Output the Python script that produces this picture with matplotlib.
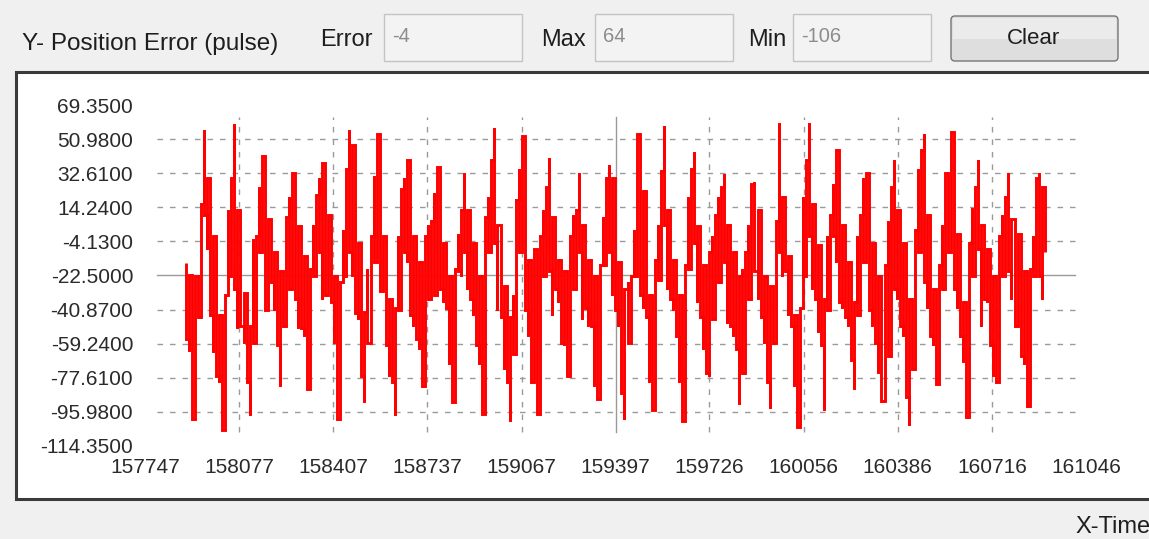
import numpy as np
import matplotlib
matplotlib.use("Agg")
import matplotlib.pyplot as plt
from matplotlib.patches import Rectangle, FancyBboxPatch

# ---------------- data ----------------
y_label = "Y- Position Error (pulse)"
x_label = "X-Time"
error_value = "-4"
max_value = "64"
min_value = "-106"
button_text = "Clear"

y_ticks = [69.35, 50.98, 32.61, 14.24, -4.13, -22.50, -40.87, -59.24, -77.61, -95.98, -114.35]
x_ticks = [157747, 158077, 158407, 158737, 159067, 159397, 159726, 160056, 160386, 160716, 161046]

# the trace is read as the highest / lowest error inside each short time bin
time_start = 157891
time_step = 10.6

high_1 = [-16, -22, -25, -23, -22, 16, 56, 30, 16, -1, -41, -44, -50, -33, 13, 30, 59, 13, -10,
          -32, -32, -50, -3, -1, 25, 42, 22, 8, -1, -10, -14, -20, -23, 9, 20, 33, 5, 4,
          -10, -12, -14, -19, 5, 21, 30, 38, 27, 10, -19, -23, -26, -26, 2, 35, 56, 48, 27]
low_1 = [-57, -63, -100, -59, -45, -23, 10, -8, -44, -64, -77, -80, -106, -82, -23, -7, -30, -51, -50,
         -59, -80, -98, -59, -37, -10, -1, -41, -41, -26, -41, -60, -82, -50, -35, -30, -15, -35, -51,
         -51, -55, -84, -66, -23, -14, -10, -35, -33, -26, -37, -59, -100, -63, -23, -5, -10, -23, -43]

high_2 = [-5, -41, -42, -19, -1, 31, 54, 54, -1, -17, -35, -37, -40, -1, 24, 30, 40, 3, -1,
          -5, -15, -32, -1, 5, 7, 22, 36, 8, -5, -10, -23, -30, -19, 0, 13, 33, 13, 10,
          -5, -15, -23, -30, 9, 20, 40, 57, 5, -10, -28, -41, -45, -33, 18, 35, 53, 3, -14, -23]
low_2 = [-46, -77, -91, -59, -41, -15, 4, -31, -19, -60, -77, -80, -98, -41, -15, -10, -15, -44, -50,
         -57, -62, -82, -59, -35, -32, -33, -10, -30, -37, -40, -70, -91, -41, -20, -23, -10, -30, -35,
         -44, -60, -70, -97, -23, -10, -5, -5, -41, -45, -73, -80, -101, -65, -5, -10, -5, -41, -55, -80]

high_3 = [-8, -25, -1, 13, 25, 41, 9, -5, -14, -19, -20, -23, -1, 10, 13, 33, 5, 0, -14,
          -15, -23, -25, -17, 9, 30, 37, 30, -8, -15, -23, -30, -26, -23, 2, 54, 30, 23, -5,
          -33, -40, -14, 5, 34, 58, 13, 5, -14, -20, -33, -40, -17, 20, 35, 44, 4, -10, -17, -23]
low_3 = [-59, -97, -44, -23, -10, -20, -44, -30, -37, -59, -60, -77, -44, -30, -23, -10, -46, -40, -50,
         -50, -82, -89, -64, -17, -5, -10, -33, -41, -50, -86, -100, -59, -55, -23, -5, -33, -40, -45,
         -80, -95, -50, -25, -1, 5, -30, -35, -41, -55, -80, -101, -47, -19, -10, -5, -37, -45, -62, -75]

high_4 = [-10, -1, 10, 20, 25, 32, 5, 3, -10, -19, -23, -19, -10, 5, 27, 28, 13, -10, -23,
          -26, -28, -28, 7, 60, 20, 15, -12, -15, -44, -45, -40, 20, 40, 60, 16, 10, -6, -15,
          -35, -1, 10, 27, 45, 7, 5, 3, -15, -26, -37, -1, 10, 30, 33, 13, -5, -14, -23, -23]
low_4 = [-77, -46, -30, -26, -15, -15, -48, -50, -55, -62, -92, -75, -50, -35, -15, -20, -35, -45, -59,
         -80, -94, -59, -17, -10, -23, -20, -44, -50, -82, -104, -61, -23, -5, -1, -30, -35, -53, -60,
         -95, -41, -20, -1, -15, -37, -40, -45, -50, -68, -84, -44, -30, -15, -10, -41, -50, -59, -75, -90]

high_5 = [-17, 7, 25, 40, 13, 5, -5, -26, -35, -44, 2, 35, 45, 54, 10, 0, -30, -48, -17,
          5, 33, 30, 55, 16, 0, -5, -37, -40, -5, 14, 25, 40, 5, -5, -8, -20, -23, -25, -1,
          10, 20, 33, 8, 7, 0, -19, -20, -20, -19, -1, 30, 33, 25, 12]
low_5 = [-88, -66, -20, -30, -35, -50, -55, -88, -103, -73, -26, -10, -5, -26, -40, -55, -60, -81, -53,
         -30, -14, -10, -10, -30, -40, -55, -69, -99, -41, -23, -10, -8, -50, -35, -37, -60, -77, -80, -33,
         -23, -15, -20, -35, -50, -45, -66, -70, -93, -67, -23, -10, -23, -35, -10]

err_high = high_1 + high_2 + high_3 + high_4 + high_5
err_low = low_1 + low_2 + low_3 + low_4 + low_5
assert len(err_high) == len(err_low)

times = time_start + time_step * np.arange(len(err_high))

# ---------------- figure ----------------
W, H = 1149, 539
plt.rcParams["font.family"] = ["Liberation Sans", "DejaVu Sans"]
fig = plt.figure(figsize=(W / 100, H / 100), dpi=100, facecolor="#f0f0f0")

bg = fig.add_axes([0, 0, 1, 1], zorder=0)
bg.set_xlim(0, W)
bg.set_ylim(H, 0)
bg.axis("off")

# plot frame
bg.add_patch(Rectangle((16, 72), W + 20, 427, facecolor="white", edgecolor="#3a3a3a", lw=2.2))

# toolbar
txt_col = "#1e1e1e"
bg.text(22, 44, y_label, fontsize=17.5, color=txt_col, ha="left", va="center")
bg.text(320, 40, "Error", fontsize=17, color=txt_col, ha="left", va="center")
bg.text(541, 40, "Max", fontsize=17, color=txt_col, ha="left", va="center")
bg.text(748, 40, "Min", fontsize=17, color=txt_col, ha="left", va="center")
for (bx, val) in [(384, error_value), (595, max_value), (793, min_value)]:
    bg.add_patch(Rectangle((bx, 14), 138, 47, facecolor="#f3f3f3", edgecolor="#c4c4c4", lw=1.0))
    bg.text(bx + 8, 36, val, fontsize=14.5, color="#8c8c8c", ha="left", va="center")
bg.add_patch(FancyBboxPatch((951, 16), 167, 45, boxstyle="round,pad=0,rounding_size=4",
                            facecolor="#dedede", edgecolor="#767676", lw=1.0))
bg.add_patch(Rectangle((953, 18), 163, 21, facecolor="#ebebeb", edgecolor="none"))
bg.text(1034, 39, button_text, fontsize=16, color=txt_col, ha="center", va="center")

# x-axis caption at bottom right
bg.text(1075, 527, x_label, fontsize=17, color=txt_col, ha="left", va="center")

# ---------------- chart axes ----------------
left_px, right_px = 145, 1086
top_px, bot_px = 105.25, 445.7
ax = fig.add_axes([left_px / W, 1 - bot_px / H, (right_px - left_px) / W, (bot_px - top_px) / H], zorder=2)
ax.patch.set_alpha(0)
ax.set_xlim(x_ticks[0], x_ticks[-1])
ax.set_ylim(y_ticks[-1], y_ticks[0])
for s in ax.spines.values():
    s.set_visible(False)

ax.set_yticks(y_ticks)
ax.set_yticklabels([f"{v:.4f}" for v in y_ticks])
ax.set_xticks(x_ticks)
ax.set_xticklabels([str(v) for v in x_ticks])
ax.tick_params(axis="both", length=0, labelsize=15, labelcolor="#2a2a2a")
ax.tick_params(axis="y", pad=8.5)
ax.tick_params(axis="x", pad=9)

grid_col = "#9a9a9a"
gx0 = (157 - left_px) / (right_px - left_px)
gx1 = (1075 - left_px) / (right_px - left_px)
gy0 = (bot_px - 432) / (bot_px - top_px)
gy1 = (bot_px - 117) / (bot_px - top_px)
ytr = ax.get_yaxis_transform()
xtr = ax.get_xaxis_transform()
mid_y = y_ticks[len(y_ticks) // 2]
mid_x = x_ticks[len(x_ticks) // 2]
for yv in y_ticks[1:-1]:
    ls = "-" if yv == mid_y else (0, (4, 5))
    ax.plot([gx0, gx1], [yv, yv], transform=ytr, color=grid_col, lw=1.0, linestyle=ls, zorder=1)
for xv in x_ticks[1:-1]:
    ls = "-" if xv == mid_x else (0, (4, 5))
    ax.plot([xv, xv], [gy0, gy1], transform=xtr, color=grid_col, lw=1.0, linestyle=ls, zorder=1)

# trace: each time bin is a vertical stroke covering its low..high range;
# consecutive bins are joined by a short horizontal step (sample-and-hold look)
xs, ys = [], []
prev_end = None
for i, (t, hi, lo) in enumerate(zip(times, err_high, err_low)):
    a, b = (hi, lo) if i % 2 == 0 else (lo, hi)
    if prev_end is not None:
        xs.append(t)
        ys.append(prev_end)
    xs += [t, t]
    ys += [a, b]
    prev_end = b
ax.plot(xs, ys, color="#ff0000", lw=2.1, solid_joinstyle="miter", solid_capstyle="butt", zorder=3)

fig.savefig("out.png", dpi=100, facecolor=fig.get_facecolor())
